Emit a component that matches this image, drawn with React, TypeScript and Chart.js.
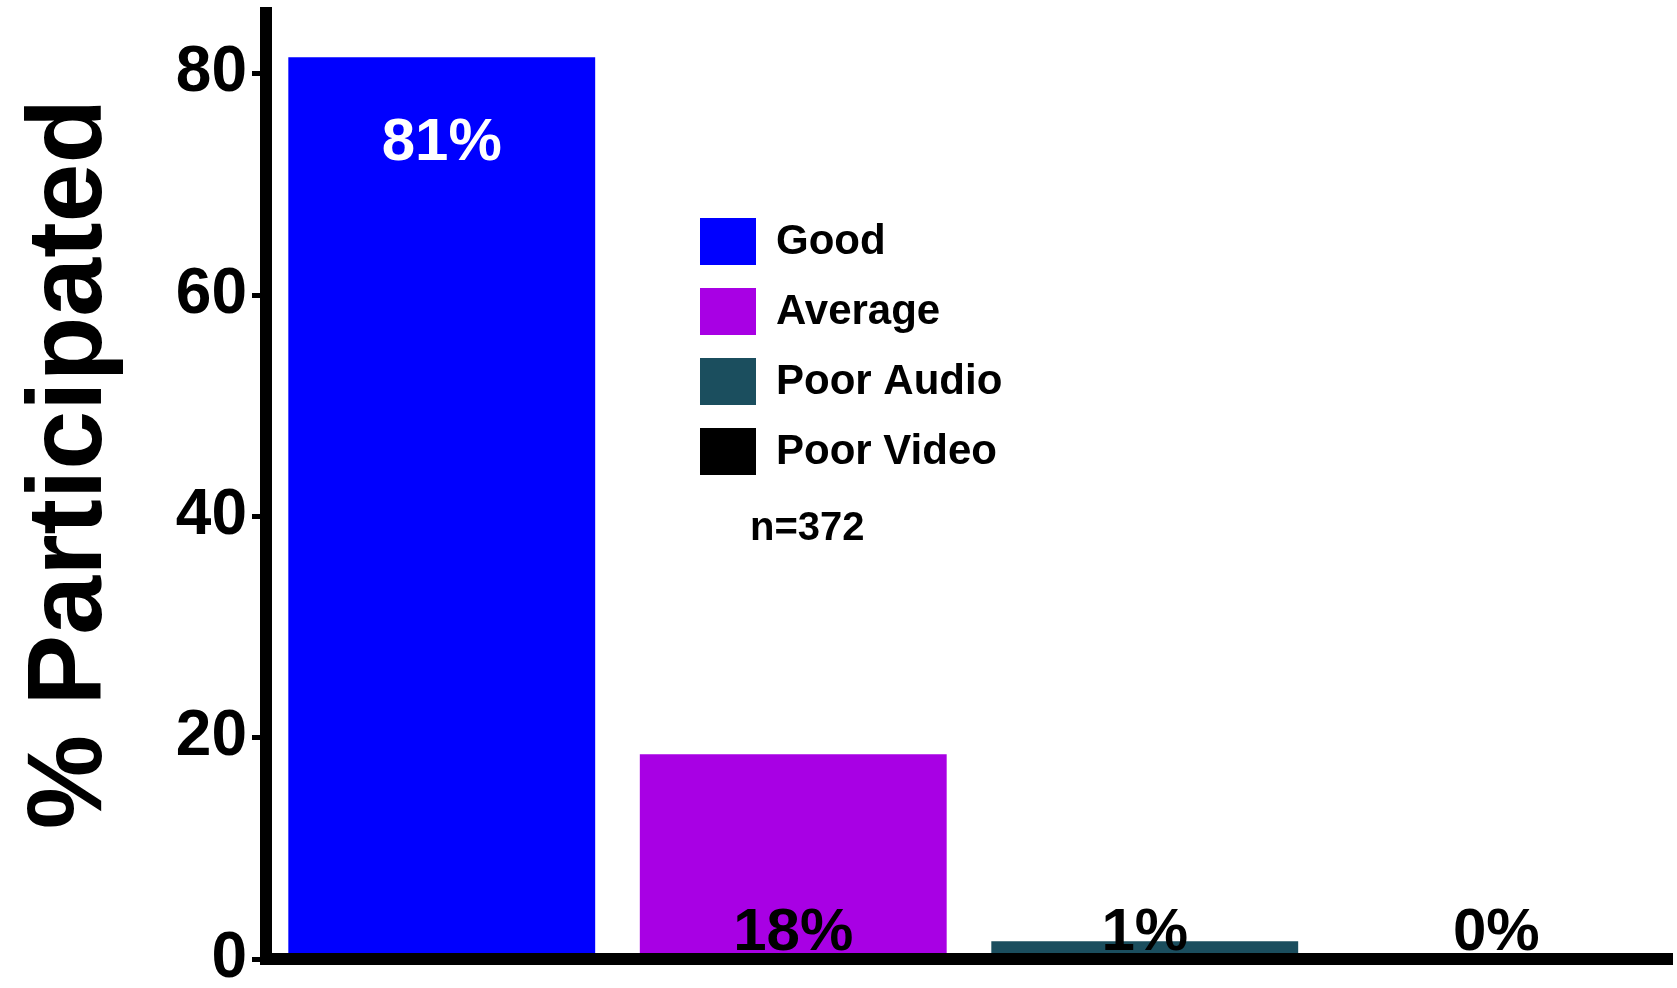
import React, { useEffect, useRef } from "react";
import { Chart, registerables } from "chart.js";

Chart.register(...registerables);

// ---- data ----
const categories = ["Good", "Average", "Poor Audio", "Poor Video"];
const values = [81.5, 18.5, 1.6, 0];
const valueLabels = ["81%", "18%", "1%", "0%"];
const barColors = ["#0000FF", "#A800E4", "#1B4E5E", "#000000"];
const yTicks = [0, 20, 40, 60, 80];
const yTitle = "% Participated";
const sampleNote = "n=372";

const FONT = '"Liberation Sans", Arial, Helvetica, sans-serif';

const overlayPlugin = {
  id: "overlay",
  afterDatasetsDraw(chart: any) {
    const ctx = chart.ctx;
    const meta = chart.getDatasetMeta(0);
    const base = chart.scales.y.getPixelForValue(0);
    ctx.save();
    ctx.font = `bold 60px ${FONT}`;
    ctx.textAlign = "center";
    ctx.textBaseline = "alphabetic";
    meta.data.forEach((bar: any, i: number) => {
      const v = values[i];
      if (v > 50) {
        ctx.fillStyle = "#FFFFFF";
        ctx.fillText(valueLabels[i], bar.x, bar.y + 103);
      } else {
        ctx.fillStyle = "#000000";
        ctx.fillText(valueLabels[i], bar.x, base - 9);
      }
    });
    ctx.restore();
  },
  afterDraw(chart: any) {
    const ctx = chart.ctx;
    ctx.save();
    // y-axis title
    ctx.translate(101, 464);
    ctx.rotate(-Math.PI / 2);
    ctx.font = `bold 106px ${FONT}`;
    ctx.fillStyle = "#000";
    ctx.textAlign = "center";
    ctx.textBaseline = "alphabetic";
    ctx.fillText(yTitle, 0, 0);
    ctx.restore();

    // legend
    ctx.save();
    ctx.font = `bold 42px ${FONT}`;
    ctx.textAlign = "left";
    ctx.textBaseline = "middle";
    categories.forEach((name, i) => {
      const cy = 241 + i * 70;
      ctx.fillStyle = barColors[i];
      ctx.fillRect(700, cy - 23, 56, 47);
      ctx.fillStyle = "#000";
      ctx.fillText(name, 776, cy + 1);
    });
    ctx.font = `bold 40px ${FONT}`;
    ctx.fillText(sampleNote, 750, 529);
    ctx.restore();
  },
};

export default function App() {
  const canvasRef = useRef<HTMLCanvasElement | null>(null);

  useEffect(() => {
    if (!canvasRef.current) return;
    const chart = new Chart(canvasRef.current, {
      type: "bar",
      data: {
        labels: categories,
        datasets: [
          {
            label: "% Participated",
            data: values,
            backgroundColor: barColors,
            borderWidth: 0,
            categoryPercentage: 1,
            barPercentage: 0.873,
          },
        ],
      },
      options: {
        responsive: false,
        animation: false,
        devicePixelRatio: 1,
        layout: { padding: { top: 13, right: 5, left: 0, bottom: 0 } },
        plugins: {
          legend: { display: false },
          tooltip: { enabled: false },
          title: { display: false },
        },
        scales: {
          x: {
            type: "category",
            ticks: { display: false },
            grid: { display: false, drawTicks: false },
            border: { display: true, width: 12, color: "#000", z: 1 },
            afterFit(scale: any) {
              scale.height = 29;
              scale.paddingLeft = 0;
              scale.paddingRight = 0;
            },
          },
          y: {
            type: "linear",
            min: 0,
            max: 85.5,
            ticks: {
              stepSize: 20,
              includeBounds: false,
              color: "#000",
              padding: 5,
              font: { family: FONT, size: 64, weight: "bold" },
            },
            afterBuildTicks(scale: any) {
              scale.ticks = yTicks.map((v) => ({ value: v }));
            },
            grid: {
              display: true,
              drawOnChartArea: false,
              drawTicks: true,
              tickLength: 14,
              tickWidth: 5,
              tickColor: "#000",
              color: "#000",
            },
            border: { display: true, width: 12, color: "#000" },
            afterFit(scale: any) {
              scale.width = 266;
              scale.paddingTop = 0;
              scale.paddingBottom = 0;
            },
          },
        },
      },
      plugins: [overlayPlugin],
    } as any);
    return () => chart.destroy();
  }, []);

  return (
    <div style={{ position: "absolute", left: 0, top: 0, width: 1677, height: 988, background: "#fff" }}>
      <canvas ref={canvasRef} width={1677} height={988} style={{ display: "block" }} />
    </div>
  );
}
